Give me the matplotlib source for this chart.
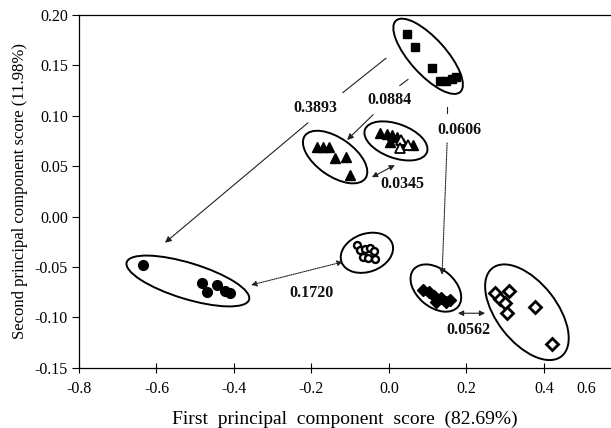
import matplotlib
matplotlib.use('Agg')
import matplotlib.pyplot as plt
from matplotlib.patches import Ellipse
from matplotlib.transforms import ScaledTranslation

plt.rc('font', family='Liberation Serif', size=11)

# scores (PC1, PC2)
sq_x = [0.046, 0.067, 0.111, 0.132, 0.147, 0.163, 0.173]
sq_y = [0.181, 0.168, 0.147, 0.134, 0.134, 0.136, 0.138]
triL_x = [-0.186, -0.170, -0.155, -0.139, -0.111, -0.101]
triL_y = [0.069, 0.069, 0.069, 0.058, 0.059, 0.041]
triR_x = [-0.023, -0.005, 0.008, 0.021, 0.003, 0.036, 0.062]
triR_y = [0.083, 0.082, 0.081, 0.079, 0.074, 0.073, 0.071]
triO_x = [0.031, 0.049, 0.028]
triO_y = [0.076, 0.071, 0.068]
circ_x = [-0.635, -0.483, -0.470, -0.444, -0.423, -0.410]
circ_y = [-0.048, -0.066, -0.075, -0.068, -0.074, -0.076]
ocirc_x = [-0.083, -0.075, -0.062, -0.049, -0.039, -0.067, -0.054, -0.036]
ocirc_y = [-0.028, -0.033, -0.032, -0.031, -0.034, -0.040, -0.041, -0.042]
dia_x = [0.088, 0.103, 0.116, 0.121, 0.134, 0.147, 0.157]
dia_y = [-0.073, -0.075, -0.079, -0.085, -0.081, -0.085, -0.083]
odia_x = [0.274, 0.310, 0.286, 0.299, 0.305, 0.377, 0.421]
odia_y = [-0.076, -0.074, -0.082, -0.086, -0.096, -0.090, -0.127]

# group ellipses: centre (data), width/height in px, angle
ell = [((0.101, 0.159), 96, 36, -48),
       ((-0.139, 0.059), 74, 38, -35),
       ((0.018, 0.075), 66, 34, -20),
       ((-0.519, -0.064), 128, 36, -17),
       ((-0.057, -0.036), 54, 38, 20),
       ((0.121, -0.071), 58, 38, -40),
       ((0.356, -0.095), 112, 60, -52)]

# distances between groups
dist_lab = ['0.3893', '0.0884', '0.0606', '0.0345', '0.1720', '0.0562']
dist_pos = [(-0.191, 0.108), (0.0, 0.116), (0.183, 0.086),
            (0.034, 0.032), (-0.201, -0.076), (0.204, -0.113)]

xticks = [-0.8, -0.6, -0.4, -0.2, 0.0, 0.2, 0.4, 0.508]
xtlab = ['-0.8', '-0.6', '-0.4', '-0.2', '0.0', '0.2', '0.4', '0.6']
yticks = [-0.15, -0.10, -0.05, 0.00, 0.05, 0.10, 0.15, 0.20]

fig = plt.figure(figsize=(6.11, 4.28), dpi=100)
ax = fig.add_axes([0.1293, 0.141, 0.8707, 0.824])

ax.plot(sq_x, sq_y, 's', color='k', ms=5.5)
ax.plot(triL_x, triL_y, '^', color='k', ms=7.5)
ax.plot(triR_x, triR_y, '^', color='k', ms=7.5)
ax.plot(triO_x, triO_y, '^', mfc='white', mec='k', mew=1.3, ms=6.5)
ax.plot(circ_x, circ_y, 'o', color='k', ms=7)
ax.plot(ocirc_x, ocirc_y, 'o', mfc='white', mec='k', mew=1.7, ms=5)
ax.plot(dia_x, dia_y, 'D', color='k', ms=6)
ax.plot(odia_x, odia_y, 'D', mfc='white', mec='k', mew=2, ms=6.5)

for (cx, cy), w, h, a in ell:
    tr = fig.dpi_scale_trans + ScaledTranslation(cx, cy, ax.transData)
    ax.add_patch(Ellipse((0, 0), w / 100, h / 100, angle=a, transform=tr,
                         fill=False, ec='k', lw=1.4))

# connecting lines / arrows
ln = dict(color='#222222', lw=0.8)
ax.plot([-0.008, -0.119], [0.157, 0.123], **ln)
ax.plot([0.049, 0.028], [0.136, 0.130], **ln)
ax.plot([0.150, 0.150], [0.109, 0.103], **ln)

one = dict(arrowstyle='-|>', color='#222222', lw=0.8, mutation_scale=9,
           shrinkA=0, shrinkB=0)
two = dict(arrowstyle='<|-|>', color='#222222', lw=0.8, mutation_scale=8,
           shrinkA=0, shrinkB=0)
dot1 = dict(one, linestyle=(0, (1, 1)))
dot2 = dict(two, linestyle=(0, (1, 1)))
ax.annotate('', xy=(-0.578, -0.026), xytext=(-0.209, 0.093), arrowprops=one)
ax.annotate('', xy=(-0.108, 0.076), xytext=(-0.041, 0.101), arrowprops=one)
ax.annotate('', xy=(0.137, -0.058), xytext=(0.150, 0.073), arrowprops=dot1)
ax.annotate('', xy=(0.015, 0.051), xytext=(-0.044, 0.039), arrowprops=two)
ax.annotate('', xy=(-0.119, -0.045), xytext=(-0.356, -0.068), arrowprops=dot2)
ax.annotate('', xy=(0.248, -0.096), xytext=(0.178, -0.096), arrowprops=two)

for s, (px, py) in zip(dist_lab, dist_pos):
    ax.text(px, py, s, ha='center', va='center', fontsize=11.5,
            fontweight='bold', color='#111111')

ax.set_xlim(-0.8, 0.573)
ax.set_ylim(-0.15, 0.20)
ax.set_xticks(xticks)
ax.set_xticklabels(xtlab, fontsize=11.5)
ax.set_yticks(yticks)
ax.set_yticklabels(['%.2f' % v for v in yticks], fontsize=11.5)
ax.xaxis.get_major_ticks()[-1].tick1line.set_visible(False)
ax.tick_params(axis='x', direction='inout', length=7, width=0.8, pad=6)
ax.tick_params(axis='y', direction='out', length=5, width=0.8, pad=3)
ax.spines['right'].set_visible(False)
for s in ['left', 'bottom', 'top']:
    ax.spines[s].set_linewidth(0.9)

ax.set_xlabel('First  principal  component  score  (82.69%)', fontsize=14,
              labelpad=10)
ax.set_ylabel('Second principal component score (11.98%)', fontsize=12,
              labelpad=5)

fig.savefig('out.png', dpi=100)
